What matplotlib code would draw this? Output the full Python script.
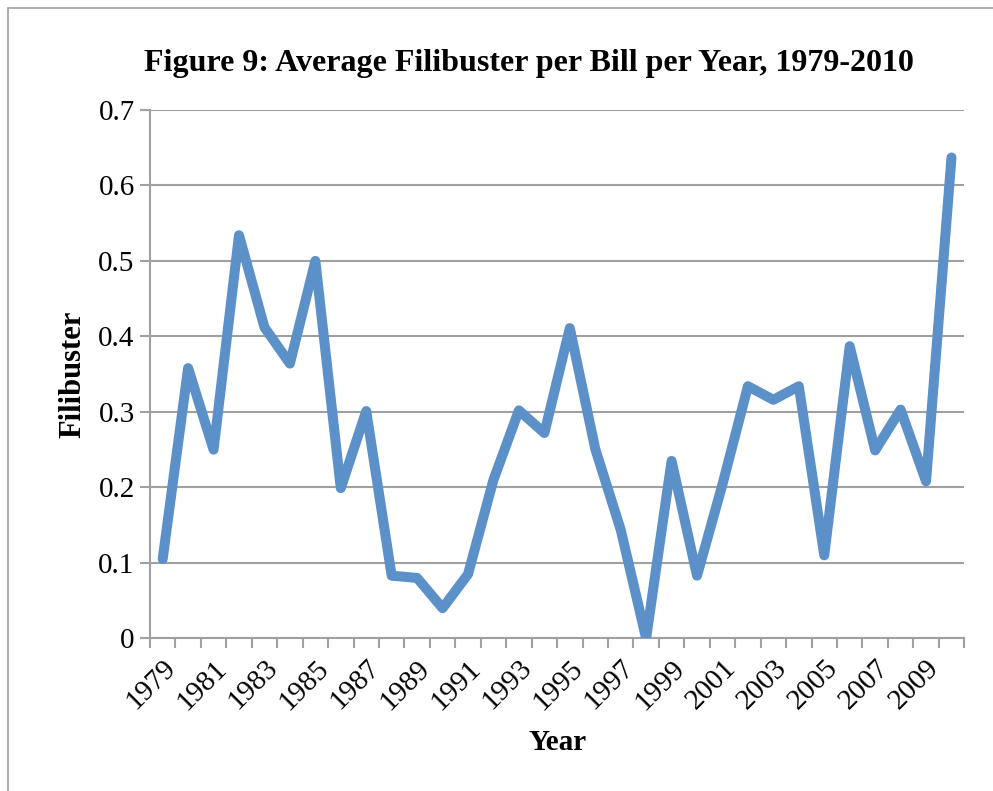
import numpy as np
import matplotlib.pyplot as plt
from matplotlib.patches import Rectangle

years = list(range(1979, 2011))
filibuster = [0.105, 0.358, 0.250, 0.534, 0.412, 0.364, 0.500, 0.199,
              0.301, 0.083, 0.080, 0.040, 0.085, 0.210, 0.302, 0.272,
              0.411, 0.251, 0.144, 0.000, 0.235, 0.083, 0.204, 0.334,
              0.316, 0.334, 0.110, 0.387, 0.249, 0.303, 0.208, 0.637]
y_ticks = [0, 0.1, 0.2, 0.3, 0.4, 0.5, 0.6, 0.7]

plt.rcParams['font.family'] = ['Liberation Serif', 'DejaVu Serif']

fig = plt.figure(figsize=(9.93, 7.91), dpi=100)
ax = fig.add_axes([0.151, 0.193, 0.820, 0.668])

x = np.arange(len(years))
ax.plot(x, filibuster, color='#5B90C8', linewidth=7.2,
        solid_joinstyle='round', solid_capstyle='round', zorder=3)

ax.set_xlim(-0.5, len(years) - 0.5)
ax.set_ylim(0, 0.7)
ax.set_yticks(y_ticks)
ax.set_yticklabels(['0' if v == 0 else f'{v:.1f}' for v in y_ticks])
ax.yaxis.grid(True, color='#A0A0A0', linewidth=1.5)
ax.set_axisbelow(True)

ax.set_xticks(x[::2])
ax.set_xticklabels([str(y) for y in years[::2]], rotation=45,
                   ha='right', va='top', rotation_mode='anchor')
ax.set_xticks(np.arange(-0.5, len(years)), minor=True)
ax.tick_params(axis='x', which='major', length=0, pad=12, labelsize=21)
ax.tick_params(axis='x', which='minor', length=7, width=1.5, color='#A0A0A0')
ax.tick_params(axis='y', length=7, width=1.5, color='#A0A0A0', labelsize=21, pad=4)

for s in ['top', 'right']:
    ax.spines[s].set_visible(False)
for s in ['left', 'bottom']:
    ax.spines[s].set_color('#A0A0A0')
    ax.spines[s].set_linewidth(1.5)

ax.set_xlabel('Year', fontweight='bold', fontsize=21, labelpad=10)
ax.set_ylabel('Filibuster', fontweight='bold', fontsize=22, labelpad=8)
fig.suptitle('Figure 9: Average Filibuster per Bill per Year, 1979-2010',
             fontweight='bold', fontsize=23, x=0.533, y=0.938)

fig.patches.append(Rectangle((0.008, -0.1), 1.1, 1.09, transform=fig.transFigure,
                             fill=False, edgecolor='#A0A0A0', linewidth=1.2))

fig.savefig('out.png', dpi=100)
